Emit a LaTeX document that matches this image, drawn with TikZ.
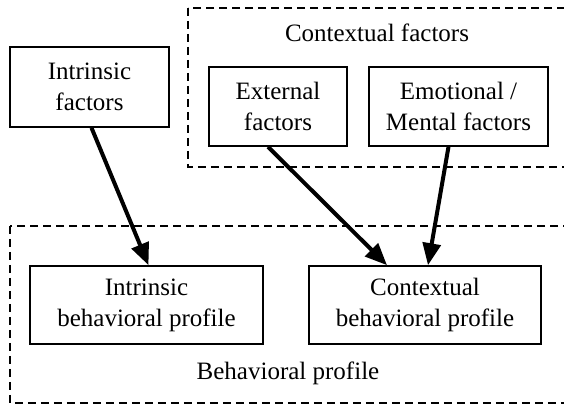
\documentclass[tikz,border=0pt]{standalone}
\usepackage{fontspec}
\setmainfont{Liberation Serif}
\usetikzlibrary{arrows.meta,positioning,calc}

\begin{document}
\begin{tikzpicture}[x=0.5pt,y=-0.5pt,
    font=\fontsize{12.5}{15.5}\selectfont,
    factorbox/.style={draw, line width=0.8pt, align=center, inner sep=0pt},
    groupbox/.style={draw, dashed, dash pattern=on 4pt off 2.5pt, line width=0.7pt},
    influence/.style={-{Triangle[length=11pt,width=9pt]}, line width=2pt}]
    \useasboundingbox (0,0) rectangle (564,406);
    \clip (0,0) rectangle (564,406);

    \draw[groupbox] (188,8) rectangle (575,167);
    \draw[groupbox] (10,226) rectangle (575,403);
    \node (ctxlabel) at (377,33) {Contextual factors};
    \node (behlabel) at (288,373) {Behavioral profile};

    \node[factorbox, minimum width=79.5pt, minimum height=40pt] (intrf) at (89.5,87) {Intrinsic\\factors};
    \node[factorbox, minimum width=69pt, minimum height=39.5pt] (extf) at (278,106.5) {External\\factors};
    \node[factorbox, minimum width=89.5pt, minimum height=39.5pt] (emof) at (458.5,106.5) {Emotional /\\Mental factors};
    \node[factorbox, minimum width=116.5pt, minimum height=39pt] (intrp) at (146.5,305) {Intrinsic\\behavioral profile};
    \node[factorbox, minimum width=116pt, minimum height=39pt] (ctxp) at (425,305) {Contextual\\behavioral profile};

    \draw[influence] ([xshift=1pt]intrf.south) -- ([xshift=1pt]intrp.north);
    \draw[influence] ([xshift=-5pt]extf.south) -- ([xshift=-19pt]ctxp.north);
    \draw[influence] ([xshift=-5pt]emof.south) -- ([xshift=1.5pt]ctxp.north);
\end{tikzpicture}
\end{document}
